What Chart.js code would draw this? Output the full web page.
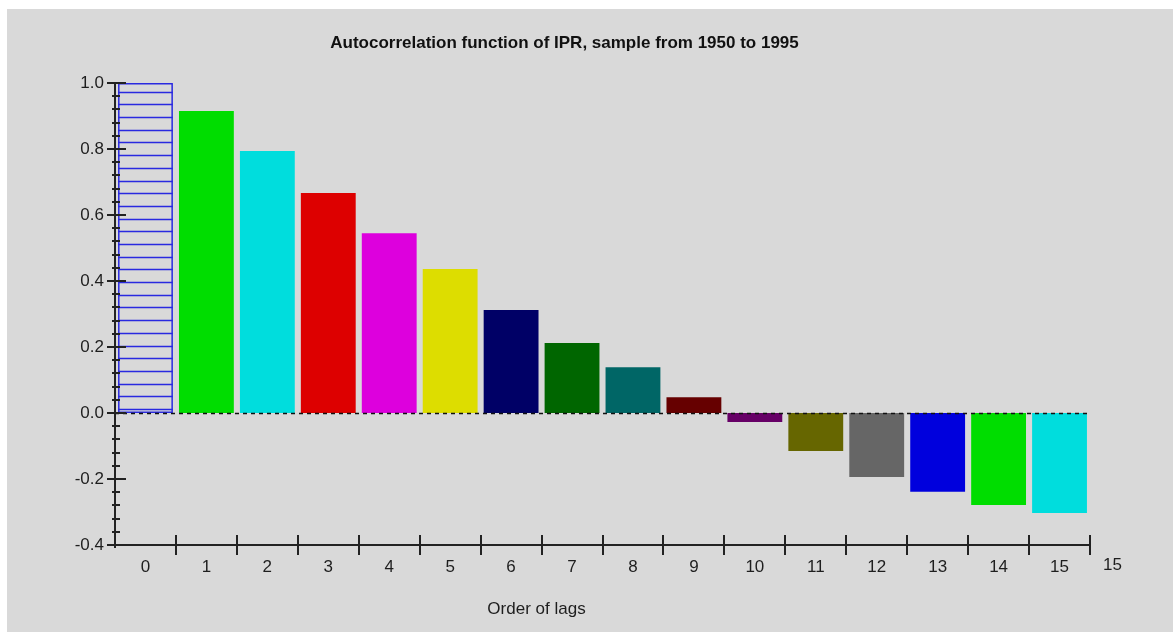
<!DOCTYPE html>
<html>
<head>
<meta charset="utf-8">
<script src="https://cdn.jsdelivr.net/npm/chart.js@4"></script>
<style>
  html, body { margin: 0; padding: 0; background: #ffffff; }
  #wrap { position: absolute; left: 7px; top: 9px; width: 1166px; height: 623px; background: #d9d9d9; }
</style>
</head>
<body>
<div id="wrap"><canvas id="acfChart"></canvas></div>
<script>
// data
const lags = ["0", "1", "2", "3", "4", "5", "6", "7", "8", "9", "10", "11", "12", "13", "14", "15"];
const acf = [1.0, 0.915, 0.794, 0.667, 0.545, 0.436, 0.312, 0.212, 0.139, 0.048, -0.027, -0.115, -0.194, -0.239, -0.279, -0.303];
const barColors = ["rgba(0,0,0,0)", "#00dd00", "#00dddd", "#dd0000", "#dd00dd", "#dddd00", "#000066", "#006600",
                   "#006666", "#660000", "#660066", "#666600", "#666666", "#0000dd", "#00dd00", "#00dddd"];
const yMin = -0.4, yMax = 1.0, yStep = 0.2, yMinorStep = 0.04;
const endLabel = "15";
const chartTitle = "Autocorrelation function of IPR, sample from 1950 to 1995";
const xTitle = "Order of lags";

const FONT = "'Liberation Sans', Arial, sans-serif";
const INK = "#1e1e1e";

// hatching on bar 0, dashed zero line, axis ticks, titles
const decor = {
    id: "decor",
    afterDatasetsDraw(chart) {
        const ctx = chart.ctx;
        const y = chart.scales.y;
        const x = chart.scales.x;

        // hatched first bar
        const bar = chart.getDatasetMeta(0).data[0];
        const p = bar.getProps(["x", "y", "base", "width"], true);
        const left = p.x - p.width / 2, right = p.x + p.width / 2;
        const top = Math.min(p.y, p.base), bottom = Math.max(p.y, p.base);
        const gap = (bottom - top) / 26;
        ctx.save();
        ctx.strokeStyle = "#2a2ae0";
        ctx.lineWidth = 1.5;
        for (let yy = bottom - 4; yy > top + 2; yy -= gap) {
            ctx.beginPath();
            ctx.moveTo(left, Math.round(yy) + 0.5);
            ctx.lineTo(right, Math.round(yy) + 0.5);
            ctx.stroke();
        }
        ctx.strokeRect(left + 0.75, top + 0.75, right - left - 1.5, bottom - top - 1.5);

        // dashed zero line
        const y0 = Math.round(y.getPixelForValue(0)) + 0.5;
        ctx.strokeStyle = "#111";
        ctx.lineWidth = 1.5;
        ctx.setLineDash([4, 4]);
        ctx.beginPath();
        ctx.moveTo(x.left, y0);
        ctx.lineTo(x.right, y0);
        ctx.stroke();
        ctx.restore();
    },
    afterDraw(chart) {
        const ctx = chart.ctx;
        const x = chart.scales.x;
        const y = chart.scales.y;
        const ax = x.left, ay = y.bottom;
        ctx.save();
        ctx.strokeStyle = "#222";
        ctx.lineWidth = 2;

        // axis lines
        ctx.beginPath();
        ctx.moveTo(ax, y.top);
        ctx.lineTo(ax, ay + 3);
        ctx.moveTo(ax - 8, ay);
        ctx.lineTo(x.right, ay);
        ctx.stroke();

        // y ticks, major and minor
        const n = Math.round((yMax - yMin) / yMinorStep);
        for (let i = 0; i <= n; i++) {
            const v = yMin + i * yMinorStep;
            const py = Math.round(y.getPixelForValue(v));
            const major = i % Math.round(yStep / yMinorStep) === 0;
            ctx.beginPath();
            ctx.moveTo(ax - (major ? 8 : 3), py);
            ctx.lineTo(ax + (major ? 11 : 5), py);
            ctx.stroke();
        }

        // x ticks at category boundaries
        const cw = x.width / lags.length;
        for (let i = 1; i <= lags.length; i++) {
            const px = Math.round(x.left + i * cw);
            ctx.beginPath();
            ctx.moveTo(px, ay - 10);
            ctx.lineTo(px, ay + 10);
            ctx.stroke();
        }

        // the extra label at the axis end
        ctx.fillStyle = INK;
        ctx.font = "17px " + FONT;
        ctx.textAlign = "left";
        ctx.textBaseline = "middle";
        ctx.fillText(endLabel, x.right + 13, ay + 20);

        // axis title
        ctx.textAlign = "center";
        ctx.fillText(xTitle, (x.left + x.right) / 2 - 66, ay + 64);

        // chart title
        ctx.fillStyle = "#111";
        ctx.font = "bold 17px " + FONT;
        ctx.fillText(chartTitle, (x.left + x.right) / 2 - 38, y.top - 40);
        ctx.restore();
    }
};

const ctx = document.getElementById("acfChart").getContext("2d");
new Chart(ctx, {
    type: "bar",
    data: {
        labels: lags,
        datasets: [{
            label: "ACF",
            data: acf,
            backgroundColor: barColors,
            borderWidth: 0,
            barPercentage: 0.9,
            categoryPercentage: 1.0
        }]
    },
    options: {
        responsive: true,
        maintainAspectRatio: false,
        animation: false,
        layout: { padding: { left: 0, right: 83, top: 74, bottom: 0 } },
        plugins: {
            legend: { display: false },
            tooltip: { enabled: true },
            title: { display: false }
        },
        scales: {
            x: {
                offset: true,
                grid: { display: false, drawTicks: false, offset: true },
                border: { display: false },
                ticks: { color: INK, font: { family: FONT, size: 17 }, padding: 12, maxRotation: 0, autoSkip: false },
                afterFit(scale) { scale.height = 87; }
            },
            y: {
                min: yMin,
                max: yMax,
                grid: { display: false, drawTicks: false },
                border: { display: false },
                ticks: {
                    stepSize: yStep,
                    color: INK,
                    font: { family: FONT, size: 17 },
                    padding: 11,
                    callback: v => (Math.abs(v) < 1e-9 ? 0 : v).toFixed(1)
                },
                afterFit(scale) { scale.width = 108; }
            }
        }
    },
    plugins: [decor]
});
</script>
</body>
</html>
